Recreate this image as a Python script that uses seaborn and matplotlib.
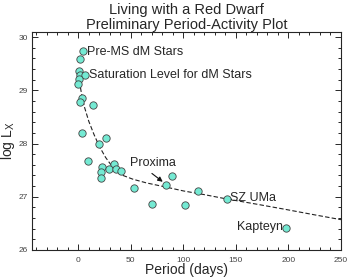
import numpy as np
import pandas as pd
import matplotlib
matplotlib.use("Agg")
import matplotlib.pyplot as plt
from matplotlib.ticker import MultipleLocator
import seaborn as sns

# star periods (days) and log Lx
period = [5.0, 1.2, 0.7, 1.9, 6.7, 0.3, 0.0, 3.1, 1.9, 14.5, 3.1, 26.3, 20.2, 9.2,
          22.5, 33.6, 28.8, 36.1, 40.6, 21.9, 21.9, 52.6, 83.7, 89.1, 70.3, 101.9,
          114.4, 141.6, 198.0]
log_lx = [29.73, 29.58, 29.36, 29.29, 29.29, 29.22, 29.11, 28.86, 28.79, 28.73, 28.19,
          28.11, 28.00, 27.67, 27.56, 27.61, 27.52, 27.52, 27.48, 27.46, 27.35, 27.17,
          27.23, 27.39, 26.87, 26.84, 27.11, 26.95, 26.42]

# dashed trend line
fit_period = [0, 3, 6, 10, 15, 20, 26, 33, 40, 52, 65, 84, 100, 120, 141, 170, 198, 225, 250]
fit_loglx = [29.30, 28.95, 28.68, 28.42, 28.17, 27.95, 27.74, 27.55, 27.42, 27.33, 27.26,
             27.18, 27.11, 27.04, 26.96, 26.86, 26.76, 26.66, 26.57]

stars = pd.DataFrame({"period": period, "log_lx": log_lx})
fit = pd.DataFrame({"period": fit_period, "log_lx": fit_loglx})

sns.set_style("ticks")
plt.rcParams["font.family"] = ["Liberation Sans", "DejaVu Sans"]

fig = plt.figure(figsize=(3.49, 2.79), dpi=100)
ax = fig.add_axes([0.0917, 0.104, 0.8853, 0.782])

sns.lineplot(data=fit, x="period", y="log_lx", ax=ax, color="#222222",
             linestyle=(0, (4, 2)), linewidth=0.8)
sns.scatterplot(data=stars, x="period", y="log_lx", ax=ax, s=28,
                color="#74ead3", edgecolor="#444444", linewidth=0.6, zorder=3)

ax.set_xlim(-44, 250)
ax.set_ylim(26, 30.1)
ax.xaxis.set_major_locator(MultipleLocator(50))
ax.xaxis.set_minor_locator(MultipleLocator(10))
ax.yaxis.set_major_locator(MultipleLocator(1))
ax.yaxis.set_minor_locator(MultipleLocator(0.2))
ax.tick_params(which="both", direction="in", top=True, right=True,
               labelsize=6, labelcolor="#444444", width=0.7)
ax.tick_params(which="major", length=4)
ax.tick_params(axis="x", which="major", pad=5)
ax.tick_params(axis="y", which="major", pad=3)
ax.tick_params(which="minor", length=2)
for s in ax.spines.values():
    s.set_linewidth(0.8)

ax.set_xlabel("Period (days)", fontsize=10, labelpad=-0.5)
ax.set_ylabel("log L$_\\mathregular{X}$", fontsize=10, labelpad=1)
ax.set_title("Living with a Red Dwarf\nPreliminary Period-Activity Plot",
             fontsize=10.5, linespacing=1.1, pad=2)

ax.text(8.5, 29.72, "Pre-MS dM Stars", fontsize=9, va="center")
ax.text(10.5, 29.28, "Saturation Level for dM Stars", fontsize=9, va="center")
ax.text(49.5, 27.63, "Proxima", fontsize=9, va="center")
ax.text(144.5, 26.97, "SZ UMa", fontsize=9, va="center")
ax.text(195, 26.43, "Kapteyn", fontsize=9, va="center", ha="right")
ax.annotate("", xy=(82.5, 27.25), xytext=(68, 27.47),
            arrowprops=dict(arrowstyle="-|>", color="#111111", lw=0.8,
                            mutation_scale=7))

fig.savefig("out.png", dpi=100)
